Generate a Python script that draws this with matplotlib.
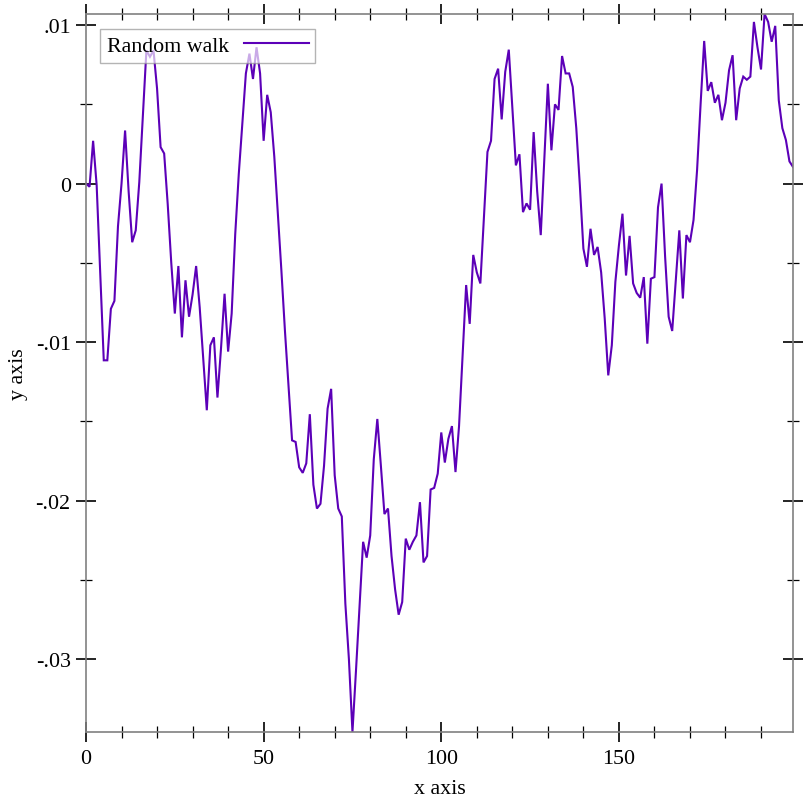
import matplotlib
matplotlib.use("Agg")
import matplotlib.pyplot as plt
from matplotlib.ticker import FixedLocator, MultipleLocator
import numpy as np

# ---- data (in units of 0.001) ----
walk_milli = [
    0.0, -0.2, 2.7, -0.1, -5.7, -11.15, -11.15, -7.9, -7.4, -2.7,
    0.0, 3.35, -0.5, -3.7, -2.95, 0.1, 4.2, 8.4, 8.0, 8.4,
    6.0, 2.3, 1.9, -1.3, -5.0, -8.2, -5.2, -9.7, -6.1, -8.4,
    -7.0, -5.2, -7.8, -11.0, -14.3, -10.2, -9.7, -13.5, -10.4, -6.95,
    -10.6, -8.2, -3.2, 0.6, 3.8, 6.95, 8.2, 6.6, 8.6, 6.95,
    2.7, 5.6, 4.5, 1.7, -1.9, -5.5, -9.3, -12.8, -16.2, -16.3,
    -17.9, -18.25, -17.65, -14.55, -19.0, -20.5, -20.2, -17.8, -14.2, -12.95,
    -18.4, -20.5, -21.0, -26.5, -30.0, -34.6, -30.7, -26.6, -22.6, -23.6,
    -22.2, -17.4, -14.85, -17.8, -20.85, -20.5, -23.5, -25.6, -27.2, -26.4,
    -22.4, -23.1, -22.6, -22.2, -20.1, -23.9, -23.5, -19.3, -19.2, -18.3,
    -15.7, -17.6, -16.1, -15.3, -18.2, -15.3, -10.8, -6.4, -8.85, -4.5,
    -5.6, -6.3, -2.2, 2.0, 2.7, 6.6, 7.25, 4.05, 7.05, 8.45,
    4.8, 1.15, 1.85, -1.8, -1.25, -1.65, 3.25, -0.5, -3.25, 1.6,
    6.3, 2.1, 5.0, 4.65, 8.05, 6.95, 6.95, 6.1, 3.5, -0.1,
    -4.1, -5.25, -2.85, -4.5, -4.0, -5.6, -8.5, -12.1, -10.2, -6.2,
    -3.9, -1.9, -5.8, -3.3, -6.3, -6.9, -7.2, -5.9, -10.1, -6.0,
    -5.9, -1.5, 0.0, -4.6, -8.4, -9.3, -6.1, -2.95, -7.25, -3.25,
    -3.7, -2.3, 0.85, 5.05, 9.0, 5.85, 6.4, 5.1, 5.6, 4.0,
    5.1, 7.15, 8.1, 4.0, 6.0, 6.75, 6.55, 6.75, 10.2, 8.6,
    7.2, 10.7, 10.2, 8.95, 9.95, 5.25, 3.5, 2.75, 1.4, 1.05,
]
x_values = list(range(len(walk_milli)))
y_values = [v / 1000.0 for v in walk_milli]

series_label = "Random walk"
x_label = "x axis"
y_label = "y axis"

xtick_major = [0, 50, 100, 150]
xtick_labels = ["0", "50", "100", "150"]
ytick_major = [-0.03, -0.02, -0.01, 0.0, 0.01]
ytick_labels = ["-.03", "-.02", "-.01", "0", ".01"]

# ---- figure ----
FS = 15.8
plt.rcParams["font.family"] = ["Liberation Serif", "DejaVu Serif"]
plt.rcParams["font.size"] = FS

fig = plt.figure(figsize=(8.12, 8.12), dpi=100)
ax = fig.add_axes([86 / 812, 1 - 733 / 812, (793 - 86) / 812, (733 - 15) / 812])

line_color = "#5c00b8"
ax.plot(x_values, y_values, color=line_color, lw=1.5, label=series_label,
        solid_joinstyle="miter")

ax.set_xlim(min(x_values), max(x_values))
ax.set_ylim(min(y_values), max(y_values))

ax.xaxis.set_major_locator(FixedLocator(xtick_major))
ax.set_xticklabels(xtick_labels)
ax.xaxis.set_minor_locator(MultipleLocator(10))
ax.yaxis.set_major_locator(FixedLocator(ytick_major))
ax.set_yticklabels(ytick_labels)
ax.yaxis.set_minor_locator(MultipleLocator(0.005))

for sp in ax.spines.values():
    sp.set_color("#808080")
    sp.set_linewidth(1.2)

ax.tick_params(which="both", direction="inout", top=True, right=True,
               labeltop=False, labelright=False, color="black")
ax.tick_params(which="major", length=15, width=1.2, labelsize=FS)
ax.tick_params(which="minor", length=8, width=0.9)
ax.tick_params(axis="x", which="major", pad=5)
ax.tick_params(axis="y", which="major", pad=3.5)

ax.set_xlabel(x_label, fontsize=FS)
ax.xaxis.set_label_coords(0.5, (733 - 790) / 718)
ax.xaxis.label.set_va("center")
ax.set_ylabel(y_label, fontsize=FS)
ax.yaxis.set_label_coords((18 - 86) / 707, 0.5)
ax.yaxis.label.set_va("center")

leg = ax.legend(loc="upper left", bbox_to_anchor=((100 - 86) / 707, (733 - 30) / 718),
                borderaxespad=0, markerfirst=False, handlelength=2.95,
                handletextpad=0.7, borderpad=0.3, fancybox=False,
                framealpha=0.67, edgecolor="#909090", fontsize=FS)
leg.get_frame().set_linewidth(1.0)
leg.get_frame().set_facecolor("white")

fig.savefig("out.png", dpi=100)
